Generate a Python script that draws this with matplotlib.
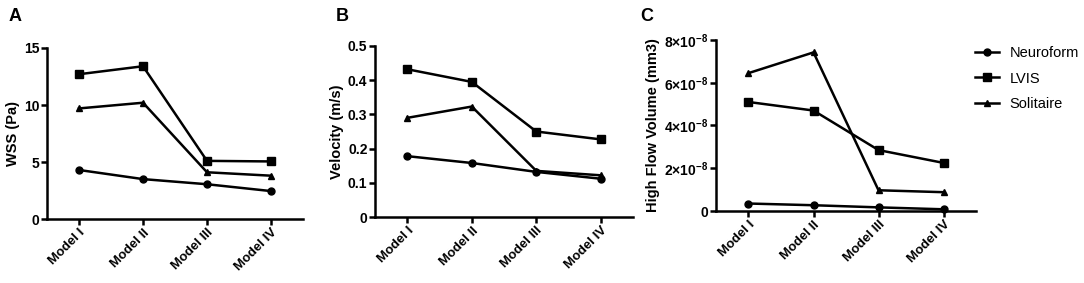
import numpy as np
import matplotlib.pyplot as plt
from matplotlib.ticker import FuncFormatter

plt.rcParams['font.family'] = ['Liberation Sans', 'DejaVu Sans']
plt.rcParams['mathtext.fontset'] = 'custom'
plt.rcParams['mathtext.bf'] = 'Liberation Sans:bold'
plt.rcParams['mathtext.rm'] = 'Liberation Sans'

models = ["Model I", "Model II", "Model III", "Model IV"]
series = ["Neuroform", "LVIS", "Solitaire"]

wss_neuroform = [4.3, 3.5, 3.05, 2.45]
wss_lvis = [12.7, 13.4, 5.1, 5.05]
wss_solitaire = [9.7, 10.2, 4.1, 3.8]

vel_neuroform = [0.178, 0.158, 0.132, 0.112]
vel_lvis = [0.432, 0.395, 0.25, 0.227]
vel_solitaire = [0.29, 0.323, 0.135, 0.122]

hfv_neuroform = [0.35e-8, 0.27e-8, 0.17e-8, 0.08e-8]
hfv_lvis = [5.1e-8, 4.7e-8, 2.85e-8, 2.25e-8]
hfv_solitaire = [6.45e-8, 7.42e-8, 0.97e-8, 0.88e-8]

markers = ["o", "s", "^"]

fig = plt.figure(figsize=(10.84, 2.83), dpi=100)
axA = fig.add_axes([0.0434, 0.2261, 0.2361, 0.6043])
axB = fig.add_axes([0.346, 0.233, 0.238, 0.6045])
axC = fig.add_axes([0.6605, 0.2544, 0.2399, 0.6043])

x = np.arange(len(models))


def sci(v, pos):
    if v == 0:
        return "0"
    return r"$\mathbf{%d{\times}10^{-8}}$" % round(v / 1e-8)


panels = [
    (axA, [wss_neuroform, wss_lvis, wss_solitaire], "WSS (Pa)", (0, 15), [0, 5, 10, 15], None),
    (axB, [vel_neuroform, vel_lvis, vel_solitaire], "Velocity (m/s)", (0, 0.5), [0, 0.1, 0.2, 0.3, 0.4, 0.5], None),
    (axC, [hfv_neuroform, hfv_lvis, hfv_solitaire], "High Flow Volume (mm3)", (0, 8e-8), [0, 2e-8, 4e-8, 6e-8, 8e-8], sci),
]

for ax, data, ylabel, ylim, yticks, fmt in panels:
    for vals, m, name in zip(data, markers, series):
        ms = 5.5 if m == "s" else 5
        ax.plot(x, vals, color="black", marker=m, markersize=ms, linewidth=1.8,
                label=name, clip_on=False)
    ax.set_xlim(-0.5, 3.5)
    ax.set_ylim(*ylim)
    ax.set_yticks(yticks)
    if fmt is not None:
        ax.yaxis.set_major_formatter(FuncFormatter(fmt))
    else:
        ax.set_yticklabels([("%g" % t) for t in yticks])
    ax.set_xticks(x)
    ax.set_xticklabels(models, rotation=45, ha="right", rotation_mode="anchor",
                       fontsize=9.5, fontweight="bold")
    ax.set_ylabel(ylabel, fontsize=10.5, fontweight="bold", labelpad=3)
    for lab in ax.get_yticklabels():
        lab.set_fontweight("bold")
        lab.set_fontsize(10)
    for s in ["top", "right"]:
        ax.spines[s].set_visible(False)
    for s in ["left", "bottom"]:
        ax.spines[s].set_linewidth(1.8)
    ax.tick_params(width=1.8, length=4, pad=1.5)

fig.legend(*axC.get_legend_handles_labels(), loc="upper left",
           bbox_to_anchor=(0.899, 0.838), frameon=False, fontsize=10.5,
           handlelength=1.7, handletextpad=0.7, labelspacing=0.8,
           borderpad=0, borderaxespad=0)

fig.text(0.008, 0.925, "A", fontsize=13, fontweight="bold")
fig.text(0.310, 0.925, "B", fontsize=13, fontweight="bold")
fig.text(0.591, 0.925, "C", fontsize=13, fontweight="bold")

fig.savefig("out.png", dpi=100)
